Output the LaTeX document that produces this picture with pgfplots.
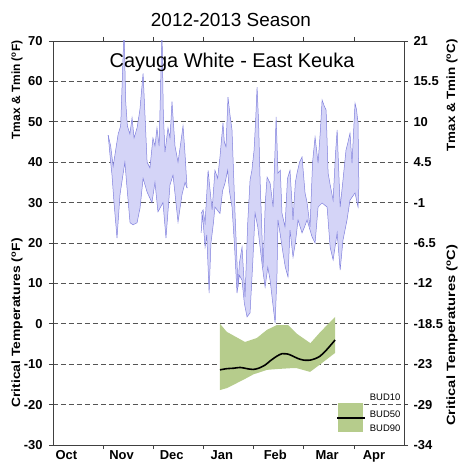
\documentclass[border=0pt]{standalone}
\usepackage{pgfplots}
\pgfplotsset{compat=1.18}
\usepackage{fontspec}
\setmainfont{Liberation Sans}
\definecolor{bandfill}{HTML}{D4D4F7}
\definecolor{bandline}{HTML}{7F7FDD}
\definecolor{budgreen}{HTML}{B6CC8C}
\definecolor{gridc}{HTML}{555555}
\definecolor{axc}{HTML}{404040}
\begin{document}
\begin{tikzpicture}
\begin{axis}[
  scale only axis, width=351bp, height=404bp,
  xmin=0, xmax=210, ymin=-30, ymax=70,
  clip mode=individual,
  axis line style={axc, line width=0.8pt},
  ytick={-30,-20,...,70},
  yticklabels={-30,-20,-10,0,10,20,30,40,50,60,70},
  ytick pos=left,
  ymajorgrids,
  grid style={gridc, line width=0.7pt, dash pattern=on 5pt off 3pt},
  xtick={30,60,...,180},
  xticklabels={},
  extra x ticks={8,41,71,101,133,164,192},
  extra x tick labels={Oct,Nov,Dec,Jan,Feb,Mar,Apr},
  extra x tick style={major tick length=0pt},
  tick align=outside,
  major tick length=4bp,
  tick style={axc, line width=0.7pt},
  ticklabel style={font=\bfseries\fontsize{13}{13}\selectfont},
  yticklabel style={xshift=-3bp},
  xticklabel style={yshift=-2bp},
]
% Tmax / Tmin band, first segment (Tmax forward, Tmin backward)
\addplot[fill=bandfill, draw=none] coordinates {
(33,46.7)(34.5,44)(36,39)(37.5,43)(39,47)(40.5,49)(42.5,73)(43.5,55)(44.5,49)(46,47)(47.3,51)(48.5,46)(50.3,48.5)(52,53)(53.9,62)(55,52)(56.3,40)(58,38.6)(59.8,46)(61,44)(62.2,48.5)(63.5,44)(65.2,73)(66,52)(67,42.5)(68.8,48.5)(70,46)(71.2,55)(72,50)(73,44)(74.8,40)(76.5,45)(77.8,49)(79,42)(80.2,33.6)
(79,35)(77.2,32)(74.8,25.2)(71.8,36.8)(70,34.4)(67.6,21.2)(65.8,30)(62.8,27.7)(61,35)(59.2,30)(56.3,32.6)(53.9,36)(52.1,28.7)(50.3,25)(47.9,24.5)(46.1,25)(44.3,33.6)(43,40)(41.9,37)(40.1,32)(38.3,21.2)(36.5,30)(35.3,36.8)(34.5,40)(33,46.7)} -- cycle;
\addplot[bandline, line width=0.5pt] coordinates {
(33,46.7)(34.5,44)(36,39)(37.5,43)(39,47)(40.5,49)(42.5,73)(43.5,55)(44.5,49)(46,47)(47.3,51)(48.5,46)(50.3,48.5)(52,53)(53.9,62)(55,52)(56.3,40)(58,38.6)(59.8,46)(61,44)(62.2,48.5)(63.5,44)(65.2,73)(66,52)(67,42.5)(68.8,48.5)(70,46)(71.2,55)(72,50)(73,44)(74.8,40)(76.5,45)(77.8,49)(79,42)(80.2,33.6)};
\addplot[bandline, line width=0.5pt] coordinates {
(33,46.7)(34.5,40)(35.3,36.8)(36.5,30)(38.3,21.2)(40.1,32)(41.9,37)(43,40)(44.3,33.6)(46.1,25)(47.9,24.5)(50.3,25)(52.1,28.7)(53.9,36)(56.3,32.6)(59.2,30)(61,35)(62.8,27.7)(65.8,30)(67.6,21.2)(70,34.4)(71.8,36.8)(74.8,25.2)(77.2,32)(79,35)(80.2,33.6)};
% Tmax / Tmin band, second segment
\addplot[fill=bandfill, draw=none] coordinates {
(88.6,27.3)(89.8,28.2)(91,25)(92.8,38)(94,33)(95.2,28.2)(96.9,38)(98.5,36)(99.9,41.3)(101.7,49.7)(102.5,45)(103.5,43.8)(104.7,56.1)(105.8,52)(107.1,48)(108.9,27.4)(110.7,9.1)(111.5,15)(113.1,19)(114.9,6.6)(116.5,25)(117.9,35.6)(119,38)(120.3,43)(121.2,50)(122.1,58.6)(123,50)(123.9,35.6)(125.7,14)(127,30)(128.1,36.3)(129.9,34.8)(131.7,28.9)(133.5,51.2)(134.6,37.3)(136,38)(137,27.4)(138.8,24)(140.3,36)(141.8,38)(143.6,25.7)(145,35)(146,37.3)(147.5,40)(149,41.3)(150.8,32.4)(152,30)(153.8,24)(155.3,40)(156.8,46.2)(158.6,39.8)(160,48)(161,55.4)(162.2,54)(163.4,52.9)(164.6,37.3)(166,34)(167.6,30.6)(169,42)(170,48)(171.8,28.9)(173.5,35.6)(175.3,43)(176.5,45)(177.7,47.2)(178.9,39.8)(180.7,54.6)(181.6,53)(182.5,49.7)(183,34)
(182.5,28.9)(180.7,32.4)(177.7,30.6)(175.9,25.7)(173.5,20.7)(171.8,13.3)(170,22.5)(167.6,15.8)(165.8,19)(164,28.9)(161,29.9)(158.6,28.9)(156.8,20)(155,21.5)(152,25.7)(150.5,24)(149,22.5)(146.6,25.7)(145,20)(143.6,16.5)(141.8,23.2)(140.6,11.6)(139,14)(137.6,17.5)(136,22)(134.6,25.7)(134,12)(132.9,0.2)(131.5,5)(129.9,10.8)(128.5,14)(126.9,9.1)(125.3,14)(123.9,19)(122.5,24)(120.9,27.4)(119.5,15)(117.9,2.7)(116.1,1.7)(114.5,5)(113.1,10.8)(111.5,12)(110.1,7.6)(108.5,20)(107.1,28.9)(105.5,33)(104.5,38)(102.9,34.8)(101.5,33)(99.9,27.3)(96.9,28.9)(96,25)(94.5,20)(93.4,7.6)(92,22)(91,19)(89.5,27)(88.6,22.5)} -- cycle;
\addplot[bandline, line width=0.5pt] coordinates {
(88.6,27.3)(89.8,28.2)(91,25)(92.8,38)(94,33)(95.2,28.2)(96.9,38)(98.5,36)(99.9,41.3)(101.7,49.7)(102.5,45)(103.5,43.8)(104.7,56.1)(105.8,52)(107.1,48)(108.9,27.4)(110.7,9.1)(111.5,15)(113.1,19)(114.9,6.6)(116.5,25)(117.9,35.6)(119,38)(120.3,43)(121.2,50)(122.1,58.6)(123,50)(123.9,35.6)(125.7,14)(127,30)(128.1,36.3)(129.9,34.8)(131.7,28.9)(133.5,51.2)(134.6,37.3)(136,38)(137,27.4)(138.8,24)(140.3,36)(141.8,38)(143.6,25.7)(145,35)(146,37.3)(147.5,40)(149,41.3)(150.8,32.4)(152,30)(153.8,24)(155.3,40)(156.8,46.2)(158.6,39.8)(160,48)(161,55.4)(162.2,54)(163.4,52.9)(164.6,37.3)(166,34)(167.6,30.6)(169,42)(170,48)(171.8,28.9)(173.5,35.6)(175.3,43)(176.5,45)(177.7,47.2)(178.9,39.8)(180.7,54.6)(181.6,53)(182.5,49.7)(183,34)};
\addplot[bandline, line width=0.5pt] coordinates {
(88.6,22.5)(89.5,27)(91,19)(92,22)(93.4,7.6)(94.5,20)(96,25)(96.9,28.9)(99.9,27.3)(101.5,33)(102.9,34.8)(104.5,38)(105.5,33)(107.1,28.9)(108.5,20)(110.1,7.6)(111.5,12)(113.1,10.8)(114.5,5)(116.1,1.7)(117.9,2.7)(119.5,15)(120.9,27.4)(122.5,24)(123.9,19)(125.3,14)(126.9,9.1)(128.5,14)(129.9,10.8)(131.5,5)(132.9,0.2)(134,12)(134.6,25.7)(136,22)(137.6,17.5)(139,14)(140.6,11.6)(141.8,23.2)(143.6,16.5)(145,20)(146.6,25.7)(149,22.5)(150.5,24)(152,25.7)(155,21.5)(156.8,20)(158.6,28.9)(161,29.9)(164,28.9)(165.8,19)(167.6,15.8)(170,22.5)(171.8,13.3)(173.5,20.7)(175.9,25.7)(177.7,30.6)(180.7,32.4)(182.5,28.9)(183,34)};
% Bud hardiness band: BUD10 forward, BUD90 backward
\addplot[fill=budgreen, draw=none] coordinates {
(99.9,0)(104,-2)(114.9,-4.5)(122,-3.5)(128,-1.5)(134,-0.3)(140.6,-0.3)(146,-2.5)(154,-4.8)(160,-2)(168.8,1.7)
(168.8,-7.2)(160,-10)(153.8,-11.9)(146,-11)(141.8,-11)(134,-11.2)(128.1,-11.4)(120,-12.5)(113.7,-13.9)(104.1,-15.9)(99.9,-16.4)} -- cycle;
\addplot[black, line width=1.6pt, smooth, tension=0.4] coordinates {
(99.9,-11.4)(104,-11.1)(108,-11)(112,-10.8)(116,-11.1)(119.7,-11.3)(123,-11)(126.9,-10.2)(130.5,-9)(134,-8)(137,-7.4)(140.6,-7.5)(143.5,-8)(146.6,-8.6)(150,-9)(153.8,-9)(157,-8.6)(159.8,-8)(164,-6.3)(168.8,-4)};
% legend
\fill[budgreen] (axis cs:170.6,-19.6) rectangle (axis cs:185.5,-26.8);
\draw[black, line width=1.6pt] (axis cs:170,-23.3) -- (axis cs:186.5,-23.3);
\node[anchor=west, inner sep=0pt, font=\fontsize{9.5}{10}\selectfont] at (axis cs:189.5,-18.1) {BUD10};
\node[anchor=west, inner sep=0pt, font=\fontsize{9.5}{10}\selectfont] at (axis cs:189.5,-22.5) {BUD50};
\node[anchor=west, inner sep=0pt, font=\fontsize{9.5}{10}\selectfont] at (axis cs:189.5,-25.8) {BUD90};
% titles
\node[font=\fontsize{19}{20}\selectfont] at ([yshift=21bp]rel axis cs:0.507,1) {2012-2013 Season};
\node[font=\fontsize{20}{21}\selectfont] at (rel axis cs:0.51,0.946) {Cayuga White - East Keuka};
% left labels
\node[rotate=90, font=\bfseries\fontsize{12}{12}\selectfont] at ([xshift=-36bp]rel axis cs:0,0.879) {Tmax \& Tmin (\textsuperscript{o}F)};
\node[rotate=90, font=\bfseries\fontsize{12}{12}\selectfont] at ([xshift=-36bp]rel axis cs:0,0.302) {\scalebox{1.16}[1]{Critical Temperatures (\textsuperscript{o}F)}};
% right labels
\node[rotate=90, font=\bfseries\fontsize{12}{12}\selectfont] at ([xshift=48bp]rel axis cs:1,0.866) {\scalebox{1.12}[1]{Tmax \& Tmin (\textsuperscript{o}C)}};
\node[rotate=90, font=\bfseries\fontsize{12}{12}\selectfont] at ([xshift=48bp]rel axis cs:1,0.272) {\scalebox{1.23}[1]{Critical Temperatures (\textsuperscript{o}C)}};
\end{axis}
\begin{axis}[
  scale only axis, width=351bp, height=404bp,
  xmin=0, xmax=210, ymin=-30, ymax=70,
  axis x line=none, axis y line*=right,
  axis line style={axc, line width=0.8pt},
  ytick={-30,-20,...,70},
  yticklabels={-34,-29,-23,-18.5,-12,-6.5,-1,4.5,10,15.5,21},
  tick align=outside,
  major tick length=4bp,
  tick style={axc, line width=0.7pt},
  ticklabel style={font=\bfseries\fontsize{13}{13}\selectfont},
  yticklabel style={xshift=2bp},
]
\addplot[draw=none] coordinates {(0,0)};
\end{axis}
\path (-53bp,-25bp) rectangle (409bp,445bp);
\end{tikzpicture}
\end{document}
